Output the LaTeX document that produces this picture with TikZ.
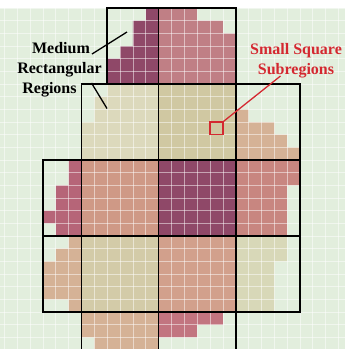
\documentclass[tikz,border=0pt]{standalone}
\usepackage{fontspec}
\setmainfont{Liberation Serif}
\definecolor{bgG}{RGB}{226,238,221}
\definecolor{cPlum}{RGB}{143,72,104}
\definecolor{cRoseA}{RGB}{192,127,133}
\definecolor{cMauve}{RGB}{182,101,120}
\definecolor{cSalmon}{RGB}{207,153,134}
\definecolor{cRoseB}{RGB}{200,134,128}
\definecolor{cCream}{RGB}{220,217,188}
\definecolor{cKhaki}{RGB}{208,200,162}
\definecolor{cPeach}{RGB}{213,178,150}
\definecolor{cKhakiB}{RGB}{211,203,168}
\definecolor{cSalmonB}{RGB}{210,160,140}
\definecolor{cCreamB}{RGB}{216,216,184}
\definecolor{cRoseC}{RGB}{194,117,128}
\definecolor{lblRed}{RGB}{212,40,48}
\begin{document}
\begin{tikzpicture}[x=1pt,y=-1pt,
  gridl/.style={white,opacity=0.5,line width=0.8pt},
  region/.style={draw=black,line width=1.6pt},
  lbl/.style={font=\fontsize{16}{20}\selectfont\bfseries,inner sep=0pt,anchor=base},
  redlbl/.style={font=\fontsize{16}{20}\selectfont\bfseries,text=lblRed,align=center,inner sep=0pt},
  leader/.style={black,line width=1.3pt},
  redleader/.style={lblRed,line width=1.3pt}]
\useasboundingbox (0,0) rectangle (345,349);
\fill[white] (0,0) rectangle (345,349);
\fill[bgG] (0,7.5) rectangle (345,349);
\begin{scope}[shift={(43,8)},x=12.85pt,y=-12.67pt]
  % top row
  \fill[cPlum] (8,0) rectangle (9,6) (7,1) rectangle (8,6) (6,3) rectangle (7,6) (5,4) rectangle (6,6);
  \fill[cRoseA] (9,0) rectangle (12,6) (12,1) rectangle (14,6) (14,2) rectangle (15,6);
  % second row
  \fill[cCream] (5,6) rectangle (9,12) (4,7) rectangle (5,12) (3,9) rectangle (4,12);
  \fill[cKhaki] (9,6) rectangle (15,12);
  \fill[cPeach] (15,8) rectangle (16,12) (16,9) rectangle (18,12) (18,10) rectangle (19,12) (19,11) rectangle (20,12);
  % third row
  \fill[cMauve] (2,12) rectangle (3,18) (1,14) rectangle (2,18) (0,16) rectangle (1,17);
  \fill[cSalmon] (3,12) rectangle (9,18);
  \fill[cPlum] (9,12) rectangle (15,18);
  \fill[cRoseB] (15,12) rectangle (19,18) (19,12) rectangle (20,14);
  % fourth row
  \fill[cPeach] (2,18) rectangle (3,24) (1,19) rectangle (2,23) (0,20) rectangle (1,23);
  \fill[cKhakiB] (3,18) rectangle (9,24);
  \fill[cSalmonB] (9,18) rectangle (15,24);
  \fill[cCreamB] (15,18) rectangle (18,24) (18,18) rectangle (19,20);
  % fifth row
  \fill[cPeach] (4,24) rectangle (9,27.5) (3,24) rectangle (4,26);
  \fill[cRoseC] (9,24) rectangle (14,25) (9,25) rectangle (12,26);
  % cell grid
  \foreach \i in {-4,...,24} \draw[gridl] (\i,0) -- (\i,27.5);
  \foreach \j in {0,...,27} \draw[gridl] (-4,\j) -- (24,\j);
  % medium rectangular regions
  \draw[region] (5,0) rectangle (9,6) (9,0) rectangle (15,6);
  \draw[region] (3,6) rectangle (9,12) (9,6) rectangle (15,12) (15,6) rectangle (20,12);
  \draw[region] (0,12) rectangle (3,18) (3,12) rectangle (9,18) (9,12) rectangle (15,18) (15,12) rectangle (20,18);
  \draw[region] (0,18) rectangle (3,24) (3,18) rectangle (9,24) (9,18) rectangle (15,24) (15,18) rectangle (20,24);
  \draw[region] (3,24) -- (3,27.6) (9,24) -- (9,27.6) (15,24) -- (15,27.6);
  % small square subregion
  \node[draw=lblRed,line width=1.2pt,minimum width=12.85pt,minimum height=12.67pt,inner sep=0pt] (sq) at (13.5,9.5) {};
\end{scope}
% labels
\node[lbl] (med) at (61,53) {Medium};
\node[lbl] (rect) at (59.5,73) {Rectangular};
\node[lbl] (reg) at (49.5,93) {Regions};
\coordinate (m0) at (92,54);
\coordinate (m1) at (127,32);
\coordinate (r0) at (91.5,83);
\coordinate (r1) at (107,108.5);
\draw[leader] (m0) -- (m1);
\draw[leader] (r0) -- (r1);
\node[redlbl] (ssq) at (296,60.5) {Small Square\\Subregions};
\coordinate (s0) at (280.5,76);
\draw[redleader] (s0) -- (sq.north east);
\end{tikzpicture}
\end{document}
